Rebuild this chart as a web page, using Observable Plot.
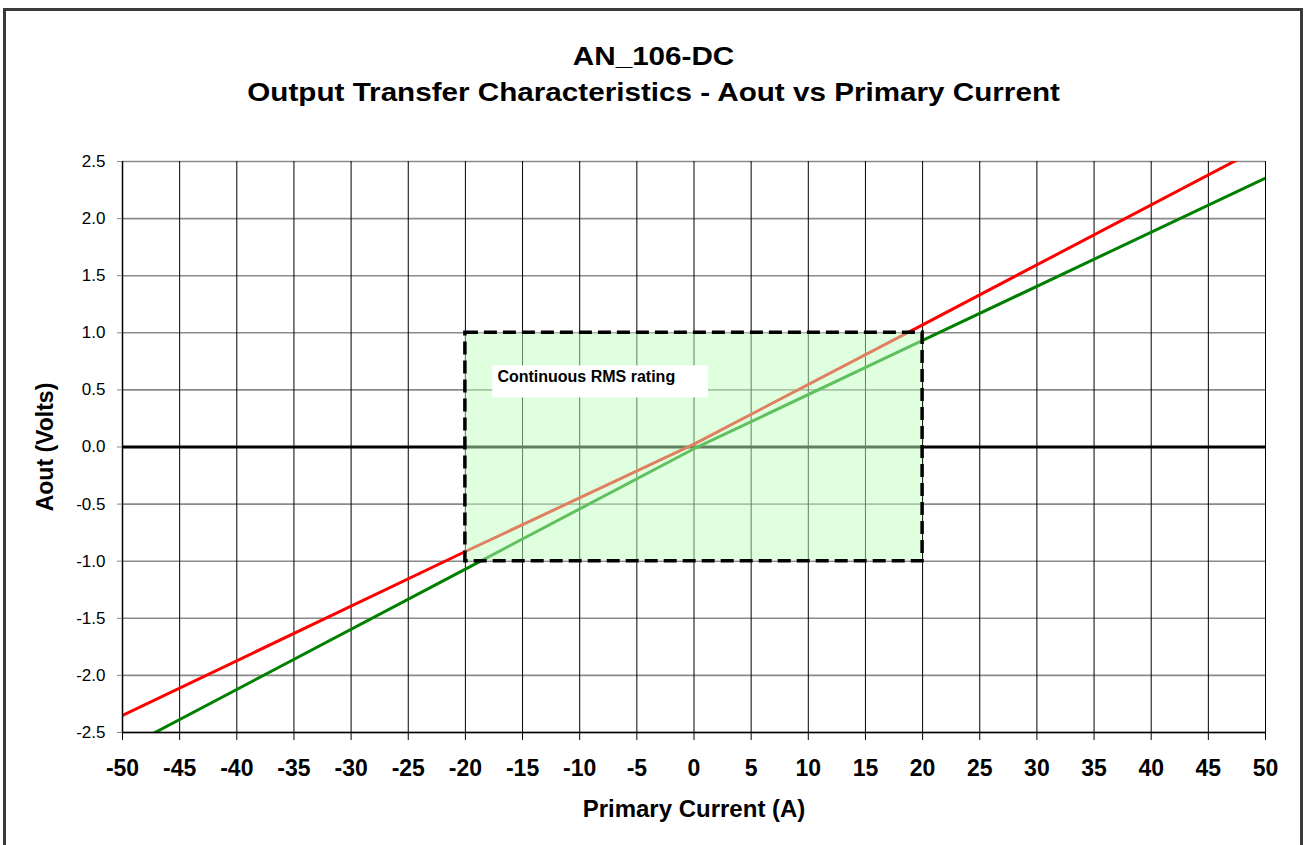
<!DOCTYPE html>
<html><head><meta charset="utf-8">
<script src="https://cdn.jsdelivr.net/npm/d3@7"></script>
<script src="https://cdn.jsdelivr.net/npm/@observablehq/plot@0.6"></script>
<style>
html,body{margin:0;padding:0;background:#fff;}
body{width:1307px;height:845px;overflow:hidden;position:relative;font-family:"Liberation Sans",Arial,sans-serif;}
#frame{position:absolute;left:3px;top:8px;width:1300px;height:860px;border:3px solid #3a3a3a;box-sizing:border-box;}
.t{position:absolute;left:0;width:1307px;text-align:center;font-weight:bold;font-size:26px;color:#000;line-height:30px;transform:scaleX(1.14);transform-origin:653px 50%;}
#chart{position:absolute;left:0;top:130px;}
</style></head><body>
<div id="frame"></div>
<div class="t" style="top:41px">AN_106-DC</div>
<div class="t" style="top:77px">Output Transfer Characteristics - Aout vs Primary Current</div>
<div id="chart"></div>
<script>
// ---- data ----
const xTicks = [-50,-45,-40,-35,-30,-25,-20,-15,-10,-5,0,5,10,15,20,25,30,35,40,45,50];
const yTicks = [-2.5,-2.0,-1.5,-1.0,-0.5,0.0,0.5,1.0,1.5,2.0,2.5];
const current = [-50, -20, 0, 20, 50];
const aoutRed = [-2.35, -0.915, 0.025, 1.07, 2.645];
const aoutGreen = [-2.65, -1.069, -0.015, 0.933, 2.355];
const ratingX = [-20, 20];
const ratingY = [-1, 1];
const ratingLabel = "Continuous RMS rating";
const labelBoxX = [-17.6, 1.27];
const labelBoxY = [0.43, 0.71];
const labelPos = [-17.2, 0.614];

const redData = current.map((c, i) => ({x: c, y: aoutRed[i]}));
const greenData = current.map((c, i) => ({x: c, y: aoutGreen[i]}));
const ratingBox = [{x1: ratingX[0], x2: ratingX[1], y1: ratingY[0], y2: ratingY[1]}];
const labelBox = [{x1: labelBoxX[0], x2: labelBoxX[1], y1: labelBoxY[0], y2: labelBoxY[1]}];

const chart = Plot.plot({
  width: 1307,
  height: 715,
  marginLeft: 122,
  marginRight: 42,
  marginTop: 31,
  marginBottom: 113,
  x: {domain: [-50, 50]},
  y: {domain: [-2.5, 2.5]},
  style: {background: "transparent", fontFamily: "'Liberation Sans', Arial, sans-serif", overflow: "visible", color: "#000"},
  marks: [
    Plot.ruleY(yTicks, {stroke: "#8a8a8a", strokeWidth: 1.6}),
    Plot.ruleX(xTicks, {stroke: "#000", strokeWidth: 1}),
    Plot.ruleY([0], {stroke: "#000", strokeWidth: 3}),
    Plot.line(redData, {x: "x", y: "y", stroke: "#ff0000", strokeWidth: 3, clip: true}),
    Plot.line(greenData, {x: "x", y: "y", stroke: "#008000", strokeWidth: 3, clip: true}),
    Plot.rect(ratingBox, {x1: "x1", x2: "x2", y1: "y1", y2: "y2", fill: "rgb(192,255,192)", fillOpacity: 0.5}),
    Plot.rect(ratingBox, {x1: "x1", x2: "x2", y1: "y1", y2: "y2", fill: "none", stroke: "#000", strokeWidth: 3.5, strokeDasharray: "13,6"}),
    Plot.rect(labelBox, {x1: "x1", x2: "x2", y1: "y1", y2: "y2", fill: "#fff"}),
    Plot.text([ratingLabel], {x: () => labelPos[0], y: () => labelPos[1], textAnchor: "start", fontSize: 16, fontWeight: "bold", fill: "#000"}),
    Plot.ruleY([-2.5], {stroke: "#000", strokeWidth: 1.5}),
    Plot.ruleX([-50], {stroke: "#000", strokeWidth: 1.5}),
    Plot.axisY({ticks: yTicks, tickSize: 5, tickPadding: 12, tickFormat: d => d.toFixed(1), fontSize: 17, stroke: "#888", fill: "#000", label: null}),
    Plot.axisX({ticks: xTicks, tickSize: 8, tickPadding: 19, tickFormat: d => String(d), fontSize: 23, fontWeight: "bold", stroke: "#000", fill: "#000", label: null}),
    Plot.text(["Primary Current (A)"], {frameAnchor: "bottom", dy: 84, fontSize: 24, fontWeight: "bold", fill: "#000", textAnchor: "middle"}),
    Plot.text(["Aout (Volts)"], {frameAnchor: "left", dx: -77, rotate: -90, fontSize: 23, fontWeight: "bold", fill: "#000", textAnchor: "middle"})
  ]
});
document.getElementById("chart").appendChild(chart);
</script>
</body></html>
